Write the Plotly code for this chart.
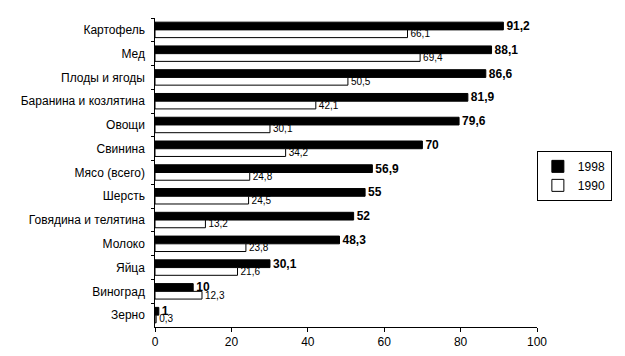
import plotly.graph_objects as go

categories = ["Картофель", "Мед", "Плоды и ягоды", "Баранина и козлятина", "Овощи",
              "Свинина", "Мясо (всего)", "Шерсть", "Говядина и телятина", "Молоко",
              "Яйца", "Виноград", "Зерно"]
values_1998 = [91.2, 88.1, 86.6, 81.9, 79.6, 70, 56.9, 55, 52, 48.3, 30.1, 10, 1]
values_1990 = [66.1, 69.4, 50.5, 42.1, 30.1, 34.2, 24.8, 24.5, 13.2, 23.8, 21.6, 12.3, 0.3]
x_ticks = [0, 20, 40, 60, 80, 100]


def fmt(v):
    return f"{v:g}".replace(".", ",")


FONT = "Liberation Sans, Arial, sans-serif"

fig = go.Figure()
fig.add_trace(go.Bar(
    name="1998", y=categories, x=values_1998, orientation="h",
    marker=dict(color="black", line=dict(color="black", width=1)),
    text=[fmt(v) for v in values_1998], textposition="outside",
    textfont=dict(family=FONT, size=12, color="black", weight="bold"),
    constraintext="none", cliponaxis=False,
))
fig.add_trace(go.Bar(
    name="1990", y=categories, x=values_1990, orientation="h",
    marker=dict(color="white", line=dict(color="black", width=1)),
    text=[fmt(v) for v in values_1990], textposition="outside",
    textfont=dict(family=FONT, size=10, color="black"),
    constraintext="none", cliponaxis=False,
))

fig.update_layout(
    width=617, height=348,
    margin=dict(l=147, r=88, t=10, b=29, autoexpand=False),
    paper_bgcolor="white", plot_bgcolor="white",
    barmode="group", bargap=0.35, bargroupgap=0.0,
    font=dict(family=FONT, size=12, color="black"),
    showlegend=True,
    legend=dict(x=1.196, y=0.57, xanchor="right", yanchor="top",
                bordercolor="black", borderwidth=1, bgcolor="white",
                font=dict(family=FONT, size=12), itemwidth=30,
                tracegroupgap=0),
    xaxis=dict(range=[0, 100], tickvals=x_ticks, ticktext=[str(t) for t in x_ticks],
               showgrid=False, zeroline=False, showline=True, linecolor="black",
               linewidth=1, ticks="outside", ticklen=4, tickcolor="black",
               tickfont=dict(family=FONT, size=12), automargin=False),
    yaxis=dict(autorange="reversed", showgrid=False, zeroline=False,
               showline=True, linecolor="black", linewidth=1,
               ticks="outside", tickson="boundaries", ticklen=3, tickcolor="black",
               tickfont=dict(family=FONT, size=12), ticksuffix="  ", automargin=False),
)

fig.write_html("out.html")
